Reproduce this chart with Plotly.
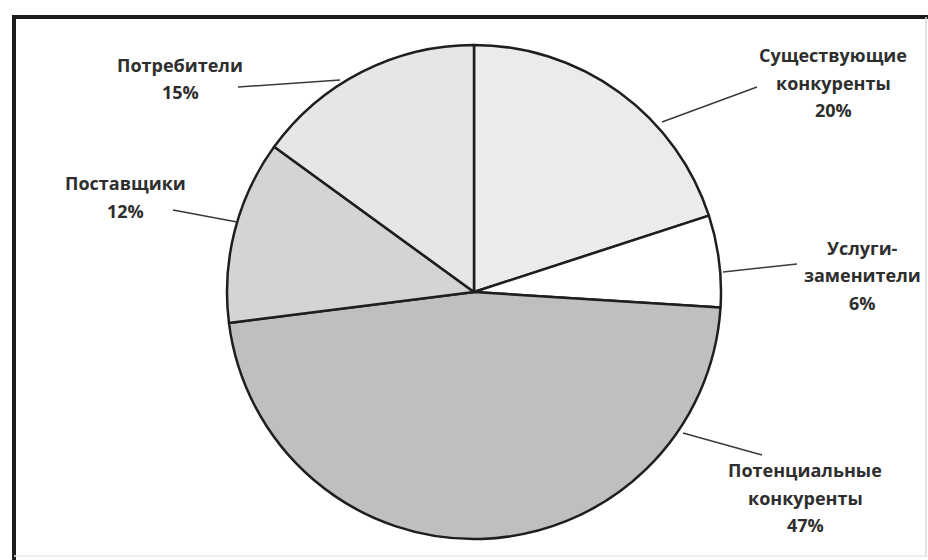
import plotly.graph_objects as go

# Forces shaping the market, shares in percent (clockwise from 12 o'clock)
labels = ["Существующие конкуренты", "Услуги-заменители", "Потенциальные конкуренты",
          "Поставщики", "Потребители"]
label_lines = [["Существующие", "конкуренты"], ["Услуги-", "заменители"],
               ["Потенциальные", "конкуренты"], ["Поставщики"], ["Потребители"]]
shares = [20, 6, 47, 12, 15]
slice_colors = ["#ebebee", "#ffffff", "#bfbfbf", "#d4d4d4", "#e6e6e8"]

W, H = 928, 560


def px(x):
    return x / W


def py(y):
    return 1 - y / H


# pie centre and radius in pixels
cx, cy, r = 474, 292, 247

fig = go.Figure(go.Pie(
    labels=labels,
    values=shares,
    sort=False,
    direction="clockwise",
    rotation=0,
    marker=dict(colors=slice_colors, line=dict(color="#1e1e1e", width=2.5)),
    textinfo="none",
    hoverinfo="label+percent",
    domain=dict(x=[px(cx - r), px(cx + r)], y=[py(cy + r), py(cy - r)]),
    showlegend=False,
))

# label text blocks: centre x and first-line y (px), plus leader line endpoints
label_pos = [
    dict(x=833, y=55, line=((662, 122), (757, 87))),
    dict(x=862, y=248, line=((723, 272), (797, 264))),
    dict(x=805, y=470, line=((683, 433), (762, 455))),
    dict(x=125, y=183, line=((173, 210), (237, 222))),
    dict(x=180, y=65, line=((238, 87), (340, 80))),
]

line_gap = 27.5
font = dict(family="Open Sans", size=18, color="#2e2e2e", weight=700)
annotations = []
shapes = []
for lines, val, pos in zip(label_lines, shares, label_pos):
    rows = lines + [f"{val}%"]
    for i, row in enumerate(rows):
        annotations.append(dict(
            x=px(pos["x"]), y=py(pos["y"] + i * line_gap),
            xref="paper", yref="paper", text=row, showarrow=False,
            xanchor="center", yanchor="middle", font=font,
        ))
    (x0, y0), (x1, y1) = pos["line"]
    shapes.append(dict(type="line", xref="paper", yref="paper",
                       x0=px(x0), y0=py(y0), x1=px(x1), y1=py(y1),
                       line=dict(color="#3a3a3a", width=1.5)))

# frame around the chart
shapes += [
    dict(type="line", xref="paper", yref="paper", x0=px(12), x1=px(928),
         y0=py(17), y1=py(17), line=dict(color="#1c1c1c", width=4)),
    dict(type="line", xref="paper", yref="paper", x0=px(14), x1=px(14),
         y0=py(15), y1=py(560), line=dict(color="#1c1c1c", width=4)),
    dict(type="line", xref="paper", yref="paper", x0=px(926), x1=px(926),
         y0=py(17), y1=py(557), line=dict(color="#d8d8d8", width=1.5)),
    dict(type="line", xref="paper", yref="paper", x0=px(14), x1=px(926),
         y0=py(556), y1=py(556), line=dict(color="#efe6e6", width=1.5)),
]

fig.update_layout(
    width=W, height=H,
    margin=dict(l=0, r=0, t=0, b=0),
    paper_bgcolor="#ffffff",
    plot_bgcolor="#ffffff",
    annotations=annotations,
    shapes=shapes,
)

fig.write_html("out.html")
